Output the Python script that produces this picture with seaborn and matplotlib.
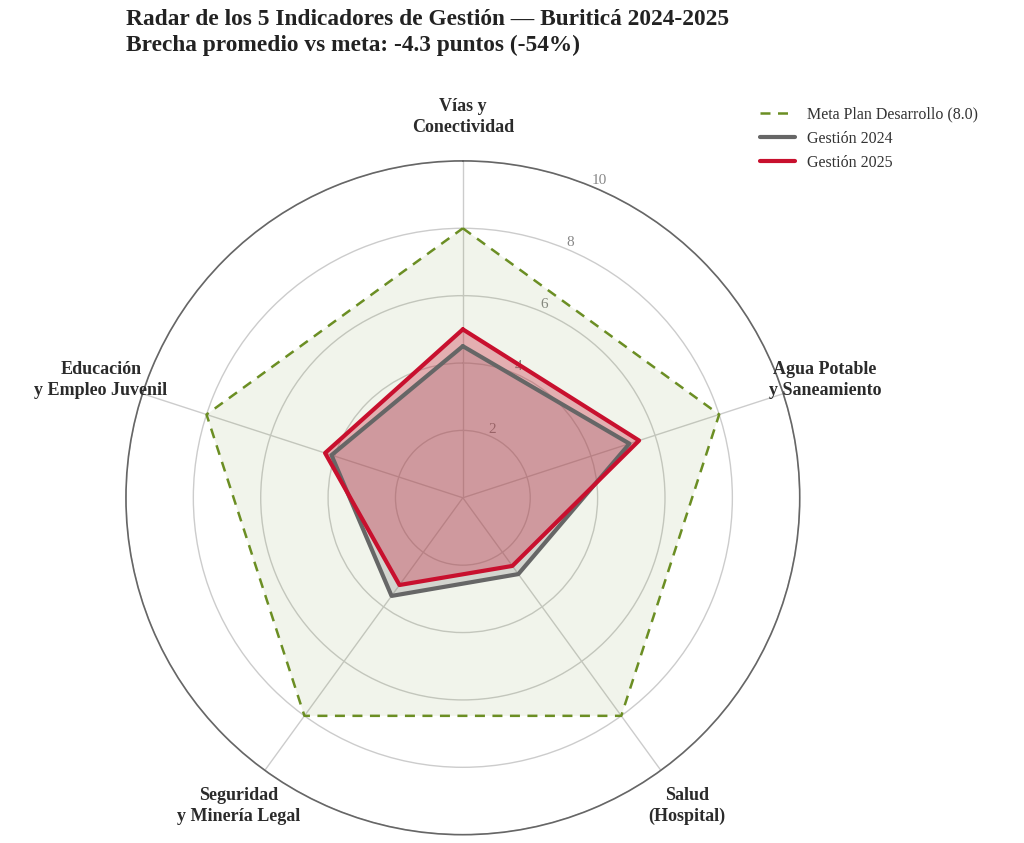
import numpy as np
import pandas as pd
import matplotlib
matplotlib.use("Agg")
import matplotlib.pyplot as plt
import seaborn as sns

categories = ["Vías y\nConectividad", "Agua Potable\ny Saneamiento", "Salud\n(Hospital)",
              "Seguridad\ny Minería Legal", "Educación\ny Empleo Juvenil"]
meta = [8.0, 8.0, 8.0, 8.0, 8.0]
gestion_2024 = [4.5, 5.2, 2.8, 3.6, 4.1]
gestion_2025 = [5.0, 5.5, 2.5, 3.2, 4.3]
r_ticks = [2, 4, 6, 8, 10]
title_lines = ["Radar de los 5 Indicadores de Gestión — Buriticá 2024-2025",
               "Brecha promedio vs meta: -4.3 puntos (-54%)"]
series_names = ["Meta Plan Desarrollo (8.0)", "Gestión 2024", "Gestión 2025"]

sns.set_theme(style="white")
plt.rcParams['font.family'] = ['Liberation Serif', 'DejaVu Serif']

n = len(categories)
angles = np.linspace(0, 2 * np.pi, n, endpoint=False)

rows = []
for name, vals in zip(series_names, [meta, gestion_2024, gestion_2025]):
    for i in list(range(n)) + [0]:
        rows.append({"serie": name, "angle": angles[i], "valor": vals[i]})
df = pd.DataFrame(rows)

fig = plt.figure(figsize=(10.24, 8.43), dpi=100)
ax = fig.add_axes([0.123, 0.0095, 0.658, 0.8], projection="polar")
ax.set_theta_zero_location("N")
ax.set_theta_direction(-1)
ax.set_ylim(0, 10)

colors = {"Meta Plan Desarrollo (8.0)": "#6B8E23", "Gestión 2024": "#666666", "Gestión 2025": "#C8102E"}
fills = {"Meta Plan Desarrollo (8.0)": ("#6B8E23", 0.09), "Gestión 2024": ("#888888", 0.28), "Gestión 2025": ("#C8102E", 0.3)}

for name in series_names:
    sub = df[df["serie"] == name]
    c, a = fills[name]
    ax.fill(sub["angle"], sub["valor"], color=c, alpha=a, zorder=2, linewidth=0)

for name in series_names:
    sub = df[df["serie"] == name]
    sns.lineplot(data=sub, x="angle", y="valor", sort=False, ax=ax, color=colors[name],
                 linewidth=1.8 if name.startswith("Meta") else 3,
                 label=name, zorder=3, estimator=None)
    if name.startswith("Meta"):
        ax.lines[-1].set_dashes((4, 3))

ax.set_xlabel("")
ax.set_ylabel("")
ax.set_xticks(angles)
ax.set_xticklabels([])
for ang, lab in zip(angles, categories):
    ax.text(ang, 11.3, lab, ha="center", va="center", fontsize=13, fontweight="bold",
            color="#2b2b2b", clip_on=False, linespacing=1.3)

ax.set_yticks(r_ticks)
ax.set_yticklabels([str(t) for t in r_ticks], color="#888888", fontsize=11)
ax.set_rlabel_position(22.5)
ax.grid(True, color="#cccccc", linewidth=1)
ax.spines["polar"].set_color("#666666")
ax.spines["polar"].set_linewidth(1.2)

leg = ax.legend(loc="upper left", bbox_to_anchor=(0.919, 1.102), frameon=False, fontsize=11.5,
                handlelength=2.2, labelcolor="#333333")

fig.text(0.123, 0.989, title_lines[0] + "\n" + title_lines[1], ha="left", va="top",
         fontsize=16.8, fontweight="bold", color="#222222", linespacing=1.28)

fig.savefig("out.png", dpi=100)
